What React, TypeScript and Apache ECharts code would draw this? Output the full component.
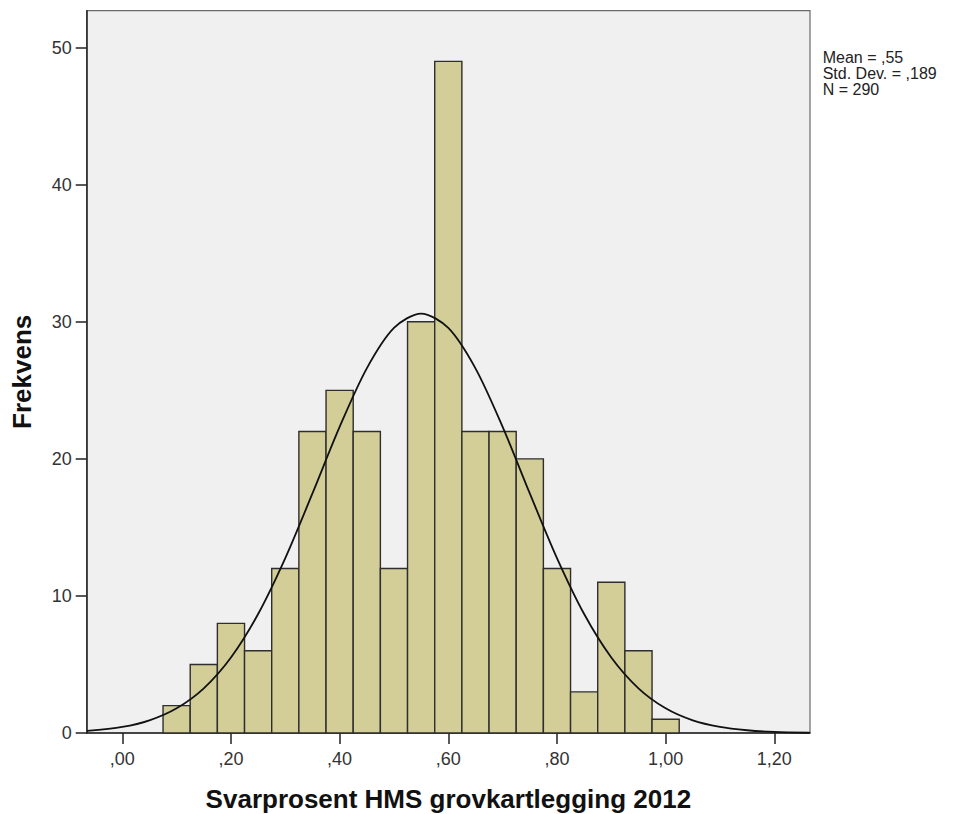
import React, { useEffect, useRef } from "react";
import * as echarts from "echarts";

// Histogram bins (centres) and frequencies
const binCenters = [0.10, 0.15, 0.20, 0.25, 0.30, 0.35, 0.40, 0.45, 0.50, 0.55, 0.60, 0.65, 0.70, 0.75, 0.80, 0.85, 0.90, 0.95, 1.00];
const frequencies = [2, 5, 8, 6, 12, 22, 25, 22, 12, 30, 49, 22, 22, 20, 12, 3, 11, 6, 1];
const binWidth = 0.05;

// Fitted normal curve
const curveX = [-0.065, 0.0, 0.05, 0.10, 0.15, 0.20, 0.25, 0.30, 0.35, 0.40, 0.45, 0.50, 0.55, 0.60, 0.65, 0.70, 0.75, 0.80, 0.85, 0.90, 0.95, 1.00, 1.05, 1.10, 1.15, 1.20, 1.265];
const curveY = [0.15, 0.44, 0.92, 1.8, 3.26, 5.51, 8.68, 12.76, 17.48, 22.33, 26.6, 29.55, 30.6, 29.55, 26.6, 22.33, 17.48, 12.76, 8.68, 5.51, 3.26, 1.8, 0.92, 0.44, 0.2, 0.08, 0.02];

// Axis ticks
const xTickValues = [0, 0.2, 0.4, 0.6, 0.8, 1.0, 1.2];
const xTickLabels = [",00", ",20", ",40", ",60", ",80", "1,00", "1,20"];
const yTickValues = [0, 10, 20, 30, 40, 50];

const statsLines = ["Mean = ,55", "Std. Dev. = ,189", "N = 290"];

const FONT = "'Liberation Sans', Arial, Helvetica, sans-serif";

export default function App() {
  const ref = useRef<HTMLDivElement>(null);

  useEffect(() => {
    if (!ref.current) return;
    const chart = echarts.init(ref.current, undefined, { renderer: "svg" });

    const barData = binCenters.map((c, i) => [c, frequencies[i]]);
    const curveData = curveX.map((x, i) => [x, curveY[i]]);

    const option: any = {
      animation: false,
      backgroundColor: "#ffffff",
      grid: {
        left: 86.7,
        right: 151,
        top: 10.7,
        bottom: 81,
        show: true,
        backgroundColor: "#f0f0f0",
        borderColor: "#6a6a6a",
        borderWidth: 1.2,
        containLabel: false,
        outerBoundsMode: "none",
      },
      xAxis: {
        type: "value",
        min: -0.0655,
        max: 1.2657,
        name: "Svarprosent HMS grovkartlegging 2012",
        nameLocation: "middle",
        nameGap: 53,
        nameTextStyle: { fontFamily: FONT, fontSize: 26, fontWeight: "bold", color: "#111" },
        axisLine: { show: true, onZero: false, lineStyle: { color: "#222", width: 1.5 } },
        axisTick: { show: true, length: 11, customValues: xTickValues, lineStyle: { color: "#222", width: 1.5 } },
        axisLabel: {
          customValues: xTickValues,
          margin: 17,
          fontFamily: FONT,
          fontSize: 18,
          color: "#333",
          formatter: (v: number) => {
            const idx = xTickValues.findIndex((t) => Math.abs(t - v) < 1e-6);
            return idx >= 0 ? xTickLabels[idx] : "";
          },
        },
        splitLine: { show: false },
      },
      yAxis: {
        type: "value",
        min: 0,
        max: 52.7,
        name: "Frekvens",
        nameLocation: "middle",
        nameGap: 52,
        nameTextStyle: { fontFamily: FONT, fontSize: 26, fontWeight: "bold", color: "#111" },
        axisLine: { show: true, onZero: false, lineStyle: { color: "#222", width: 1.5 } },
        axisTick: { show: true, length: 11, customValues: yTickValues, lineStyle: { color: "#222", width: 1.5 } },
        axisLabel: {
          customValues: yTickValues,
          margin: 15,
          fontFamily: FONT,
          fontSize: 18,
          color: "#333",
        },
        splitLine: { show: false },
      },
      series: [
        {
          type: "custom",
          data: barData,
          encode: { x: 0, y: 1 },
          renderItem: (params: any, api: any) => {
            const c = api.value(0);
            const v = api.value(1);
            const p0 = api.coord([c - binWidth / 2, v]);
            const p1 = api.coord([c + binWidth / 2, 0]);
            return {
              type: "rect",
              shape: { x: p0[0], y: p0[1], width: p1[0] - p0[0], height: p1[1] - p0[1] },
              style: { fill: "#d3ce97", stroke: "#2e2e2e", lineWidth: 1.4 },
            };
          },
          z: 2,
        },
        {
          type: "line",
          data: curveData,
          smooth: 0.3,
          showSymbol: false,
          symbol: "none",
          lineStyle: { color: "#111", width: 1.8 },
          z: 3,
        },
      ],
      graphic: [
        {
          type: "text",
          left: 822.7,
          top: 49,
          style: {
            text: statsLines.join("\n"),
            fontFamily: FONT,
            fontSize: 16,
            lineHeight: 16,
            fill: "#222",
          },
        },
      ],
    };

    chart.setOption(option);
    return () => chart.dispose();
  }, []);

  return (
    <div
      ref={ref}
      style={{ position: "fixed", left: 0, top: 0, width: 961, height: 814 }}
    />
  );
}
